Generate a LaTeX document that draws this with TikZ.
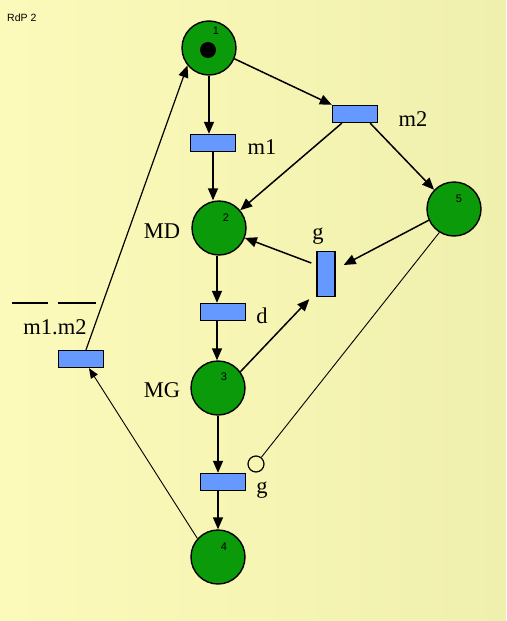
\documentclass[tikz,border=0pt]{standalone}
\usepackage{fontspec}
\setmainfont{Liberation Serif}
\newfontfamily\numfont{Liberation Sans}
\usetikzlibrary{arrows.meta}
\definecolor{bgleft}{RGB}{252,250,186}
\definecolor{bgright}{RGB}{240,240,174}
\definecolor{placegreen}{RGB}{10,154,10}
\definecolor{transblue}{RGB}{102,153,255}

\begin{document}
\begin{tikzpicture}[x=1pt, y=-1pt,
        place/.style={draw, circle, line width=1.4pt, fill=placegreen, minimum size=54pt, inner sep=0pt},
        trans/.style={draw, rectangle, line width=1.4pt, fill=transblue, minimum width=45pt, minimum height=17pt, inner sep=0pt},
        vtrans/.style={trans, minimum width=18pt, minimum height=45pt},
        lbl/.style={font=\fontsize{22.5}{22.5}\selectfont, inner sep=0pt},
        num/.style={font=\numfont\fontsize{11}{11}\selectfont, inner sep=0pt},
        arc/.style={draw, line width=1.5pt, -{Triangle[length=12pt,width=10pt]}},
        thinarc/.style={draw, line width=0.9pt}]
    % background
    \shade[left color=bgleft, right color=bgright] (0,0) rectangle (506,621);
    \useasboundingbox (0,0) rectangle (506,621);
    \node[font=\numfont\fontsize{10.5}{10.5}\selectfont, anchor=west, inner sep=0pt] (title) at (7,18) {RdP 2};

    % places
    \node[place] (p1) at (209,48) {};
    \node[circle, fill=black, minimum size=16pt, inner sep=0pt] (tok) at (208,50) {};
    \node[place] (p2) at (219,228) {};
    \node[place] (p5) at (454,209) {};
    \node[place] (p3) at (218,388) {};
    \node[place] (p4) at (218,557) {};
    \node[num] (n1) at (216,31) {1};
    \node[num] (n2) at (226,218) {2};
    \node[num] (n5) at (459,199) {5};
    \node[num] (n3) at (224,377) {3};
    \node[num] (n4) at (224,547) {4};

    % transitions
    \node[trans] (m1) at (213,143) {};
    \node[trans] (m2) at (355,114) {};
    \node[trans] (d) at (223,312) {};
    \node[vtrans] (gv) at (326,274) {};
    \node[trans] (gb) at (223,482) {};
    \node[trans] (lt) at (81,359) {};
    \node[circle, draw, line width=1.2pt, minimum size=16pt, inner sep=0pt] (inh) at (256,464) {};

    % labels
    \node[lbl] (lm1) at (262,147) {m1};
    \node[lbl] (lm2) at (413,119) {m2};
    \node[lbl] (ld) at (262,316) {d};
    \node[lbl] (lgv) at (318,236) {g};
    \node[lbl] (lgb) at (262,490) {g};
    \node[lbl] (lmd) at (162,231) {MD};
    \node[lbl] (lmg) at (162,390) {MG};
    \node[lbl] (lnot) at (55,327) {m1.m2};
    \draw[line width=2pt] (12,303) -- (48,303);
    \draw[line width=2pt] (58,303) -- (96,303);

    % arcs
    \draw[arc] (p1) -- (m1.north -| p1);
    \draw[arc] (p1.-23) -- (m2.north west);
    \draw[arc] (m1.south) -- (m1.south |- p2.north);
    \draw[arc] ([xshift=10pt]m2.south west) -- (p2.40);
    \draw[arc] ([xshift=-8pt]m2.south east) -- (p5.136);
    \draw[arc] (p5.204) -- ([xshift=8pt,yshift=9pt]gv.east);
    \draw[arc] ([xshift=-5pt,yshift=11pt]gv.west) -- (p2.-21);
    \draw[arc] (p2.south -| 217,0) -- (d.north -| 217,0);
    \draw[arc] (d.south -| 217,0) -- (p3.north -| 217,0);
    \draw[arc] (p3.36) -- ([xshift=-7pt,yshift=-2pt]gv.south west);
    \draw[arc] (p3.south) -- (gb.north -| p3);
    \draw[arc] (gb.south -| p3) -- (p4.north);
    \draw[thinarc] (p5.238) -- (inh);
    \draw[arc, line width=1.2pt] ([xshift=5pt]lt.north) -- (p1.219);
    \draw[thinarc, -{Triangle[length=10pt,width=8pt]}] (p4.138) -- ([xshift=8pt]lt.south);
\end{tikzpicture}
\end{document}
